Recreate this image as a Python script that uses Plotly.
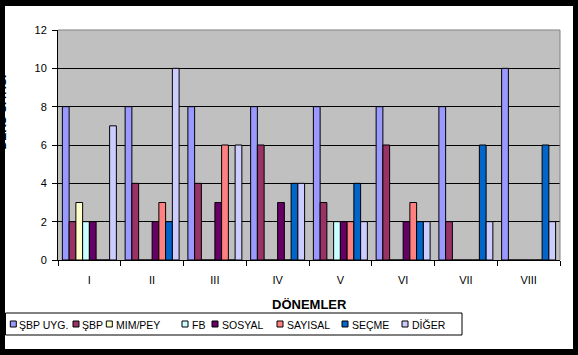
import plotly.graph_objects as go

# ---- data ----
categories = ["I", "II", "III", "IV", "V", "VI", "VII", "VIII"]
series_names = ["ŞBP UYG.", "ŞBP", "MIM/PEY", "FB", "SOSYAL", "SAYISAL", "SEÇME", "DİĞER"]
sbp_uyg = [8, 8, 8, 8, 8, 8, 8, 10]
sbp = [2, 4, 4, 6, 3, 6, 2, 0]
mim_pey = [3, 0, 0, 0, 0, 0, 0, 0]
fb = [2, 0, 0, 0, 2, 0, 0, 0]
sosyal = [2, 2, 3, 3, 2, 2, 0, 0]
sayisal = [0, 3, 6, 0, 2, 3, 0, 0]
secme = [0, 2, 0, 4, 4, 2, 6, 6]
diger = [7, 10, 6, 4, 2, 2, 2, 2]
series_values = [sbp_uyg, sbp, mim_pey, fb, sosyal, sayisal, secme, diger]
colors = ["#9999FF", "#993366", "#FFFFCC", "#CCFFFF", "#660066", "#FF8080", "#0066CC", "#CCCCFF"]
y_ticks = [0, 2, 4, 6, 8, 10, 12]
x_title = "DÖNEMLER"
y_title = "DERS SAYISI"

# ---- layout geometry (pixels) ----
W, H = 578, 355
L, R, T, B = 58, 18, 30, 95
PW, PH = W - L - R, H - T - B

def px_x(x):
    return (x - L) / PW

def px_y(y):
    return (T + PH - y) / PH

FONT = "Arial, Liberation Sans, sans-serif"

fig = go.Figure()
for name, vals, col in zip(series_names, series_values, colors):
    fig.add_trace(go.Bar(
        x=categories, y=vals, name=name,
        marker=dict(color=col, line=dict(color="black", width=1)),
        showlegend=False,
    ))

shapes = [
    # white chart area on black frame
    dict(type="rect", xref="paper", yref="paper", layer="below",
         x0=px_x(5), x1=px_x(573), y0=px_y(349), y1=px_y(6),
         fillcolor="white", line=dict(width=0)),
    # gray plot area
    dict(type="rect", xref="paper", yref="paper", layer="below",
         x0=0, x1=1, y0=0, y1=1, fillcolor="#C0C0C0", line=dict(width=0)),
    # gray top/right border
    dict(type="line", xref="paper", yref="paper", layer="above",
         x0=0, x1=1, y0=1, y1=1, line=dict(color="#808080", width=1)),
    dict(type="line", xref="paper", yref="paper", layer="above",
         x0=1, x1=1, y0=0, y1=1, line=dict(color="#808080", width=1)),
    # legend box
    dict(type="rect", xref="paper", yref="paper", layer="above",
         x0=px_x(5.5), x1=px_x(462), y0=px_y(335), y1=px_y(313),
         fillcolor="white", line=dict(color="black", width=1)),
]

annotations = [
    dict(text="<b>" + x_title + "</b>", xref="paper", yref="paper",
         x=0.5, y=px_y(304), xanchor="center", yanchor="middle",
         showarrow=False, font=dict(family=FONT, size=13, color="black")),
    dict(text="<b>" + y_title + "</b>", xref="paper", yref="paper",
         x=px_x(1.5), y=px_y(112), xanchor="center", yanchor="middle",
         textangle=-90, showarrow=False,
         font=dict(family=FONT, size=12, color="black")),
]

# manual legend (single row)
legend_sq = [13.3, 76, 109.3, 185, 215, 280, 345, 405]
legend_tx = [18, 81, 115, 191, 221, 286, 351, 411]
for name, col, sx, tx in zip(series_names, colors, legend_sq, legend_tx):
    shapes.append(dict(type="rect", xref="paper", yref="paper", layer="above",
                       x0=px_x(sx - 3), x1=px_x(sx + 3),
                       y0=px_y(327), y1=px_y(321),
                       fillcolor=col, line=dict(color="black", width=1)))
    annotations.append(dict(text=name, xref="paper", yref="paper",
                            x=px_x(tx - 1), y=px_y(324.5), xanchor="left", yanchor="middle",
                            showarrow=False,
                            font=dict(family=FONT, size=10.5, color="black")))

fig.update_layout(
    width=W, height=H,
    margin=dict(l=L, r=R, t=T, b=B, pad=0),
    paper_bgcolor="black",
    plot_bgcolor="#C0C0C0",
    barmode="group",
    bargap=0.14,
    bargroupgap=0,
    font=dict(family=FONT, size=11, color="black"),
    shapes=shapes,
    annotations=annotations,
    showlegend=False,
)
fig.update_xaxes(
    type="category", tickson="boundaries", ticks="outside", ticklen=5,
    tickcolor="black", tickwidth=1, showline=True, linecolor="black", linewidth=1,
    showgrid=False, ticklabelstandoff=10,
    tickfont=dict(family=FONT, size=11, color="black"),
)
fig.update_yaxes(
    range=[0, 12], tickvals=y_ticks, ticks="outside", ticklen=5,
    tickcolor="black", tickwidth=1, showline=True, linecolor="black", linewidth=1,
    showgrid=True, gridcolor="black", gridwidth=1, zeroline=False,
    ticklabelstandoff=3,
    tickfont=dict(family=FONT, size=11, color="black"),
)

fig.write_html(
    "out.html",
    config={"displayModeBar": False},
    post_script="document.body.style.margin='0';document.body.style.overflow='hidden';",
)
